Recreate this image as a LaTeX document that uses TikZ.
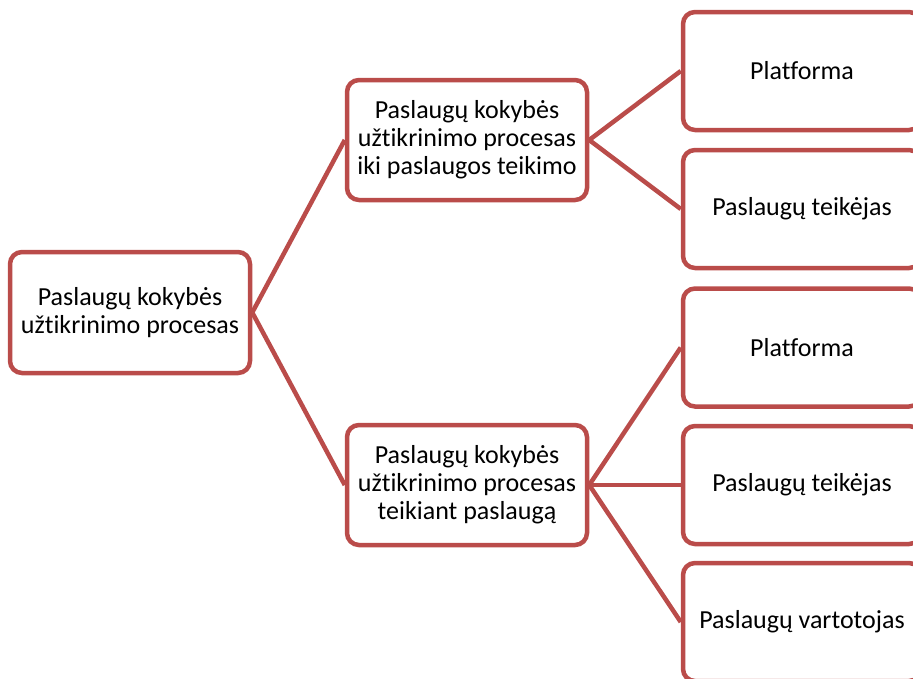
\documentclass[tikz,border=0pt]{standalone}
\usepackage{fontspec}
\setmainfont{Carlito}[RawFeature=-liga]
\definecolor{accentred}{RGB}{186,76,74}
\begin{document}
\begin{tikzpicture}[x=1pt,y=-1pt,
  box/.style={draw=accentred, line width=4.5pt, rounded corners=12pt, fill=white,
    align=center, inner sep=0pt, font=\fontsize{26}{28}\selectfont},
  link/.style={draw=accentred, line width=4.5pt}]
  \useasboundingbox (0,0) rectangle (913,678);
  \clip (0,0) rectangle (913,678);
  % root
  \node[box, minimum width=240pt, minimum height=121pt] (root) at (130,312.5)
    {Paslaugų kokybės\\užtikrinimo procesas};
  % second level
  \node[box, minimum width=240pt, minimum height=120pt] (pre) at (467,140)
    {Paslaugų kokybės\\užtikrinimo procesas\\iki paslaugos teikimo};
  \node[box, minimum width=240pt, minimum height=120pt] (dur) at (467,485)
    {Paslaugų kokybės\\užtikrinimo procesas\\teikiant paslaugą};
  % third level
  \node[box, minimum width=238pt, minimum height=118pt] (p1) at (802,71) {Platforma};
  \node[box, minimum width=238pt, minimum height=118pt] (t1) at (802,209) {Paslaugų teikėjas};
  \node[box, minimum width=238pt, minimum height=118pt] (p2) at (802,347.5) {Platforma};
  \node[box, minimum width=238pt, minimum height=118pt] (t2) at (802,485) {Paslaugų teikėjas};
  \node[box, minimum width=238pt, minimum height=118pt] (v2) at (802,622) {Paslaugų vartotojas};
  % connectors
  \draw[link] (root.east) -- (pre.west);
  \draw[link] (root.east) -- (dur.west);
  \draw[link] (pre.east) -- (p1.west);
  \draw[link] (pre.east) -- (t1.west);
  \draw[link] (dur.east) -- (p2.west);
  \draw[link] (dur.east) -- (t2.west);
  \draw[link] (dur.east) -- (v2.west);
\end{tikzpicture}
\end{document}
